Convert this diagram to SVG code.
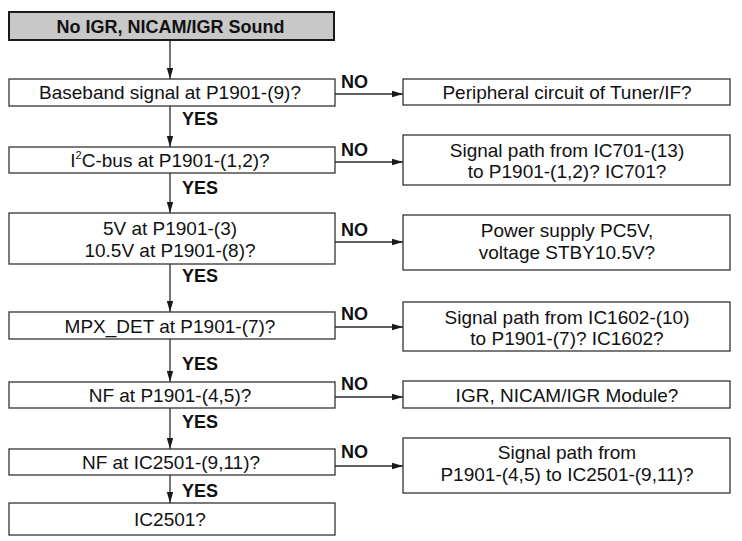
<svg xmlns="http://www.w3.org/2000/svg" width="742" height="541" viewBox="0 0 742 541">
<defs>
<marker id="ah" markerWidth="12" markerHeight="8" refX="11" refY="4" orient="auto" markerUnits="userSpaceOnUse">
<path d="M0,0.8 L11,4 L0,7.2 Z" fill="#1a1a1a"/>
</marker>
<style>
.box{fill:#fff;stroke:#333;stroke-width:1.3}
.title{fill:#c8c8c8;stroke:#1a1a1a;stroke-width:2}
.t{font-family:"Liberation Sans",Arial,sans-serif;font-size:19px;fill:#111;text-anchor:middle}
.b{font-family:"Liberation Sans",Arial,sans-serif;font-size:18px;font-weight:bold;fill:#111}
.c{stroke:#2a2a2a;stroke-width:1.3;fill:none;marker-end:url(#ah)}
</style>
</defs>
<rect width="742" height="541" fill="#fff"/>
<g id="connectors">
<line class="c" x1="170" y1="41" x2="170" y2="79"/>
<line class="c" x1="170" y1="106" x2="170" y2="147"/>
<line class="c" x1="170" y1="173" x2="170" y2="213"/>
<line class="c" x1="170" y1="264" x2="170" y2="312"/>
<line class="c" x1="170" y1="339" x2="170" y2="382"/>
<line class="c" x1="170" y1="408" x2="170" y2="449"/>
<line class="c" x1="170" y1="475" x2="170" y2="503"/>
<line class="c" x1="335" y1="94" x2="403" y2="94"/>
<line class="c" x1="335" y1="162" x2="403" y2="162"/>
<line class="c" x1="335" y1="242" x2="403" y2="242"/>
<line class="c" x1="335" y1="327" x2="403" y2="327"/>
<line class="c" x1="335" y1="397" x2="403" y2="397"/>
<line class="c" x1="335" y1="466" x2="403" y2="466"/>
<text class="b" x="182" y="125">YES</text>
<text class="b" x="182" y="194">YES</text>
<text class="b" x="182" y="282">YES</text>
<text class="b" x="182" y="370">YES</text>
<text class="b" x="182" y="428">YES</text>
<text class="b" x="182" y="497">YES</text>
<text class="b" x="341" y="88">NO</text>
<text class="b" x="341" y="156">NO</text>
<text class="b" x="341" y="236">NO</text>
<text class="b" x="341" y="320">NO</text>
<text class="b" x="341" y="390">NO</text>
<text class="b" x="341" y="458">NO</text>
</g>
<g id="start">
<rect class="title" x="9" y="12" width="325" height="28"/>
<text class="b" x="170.5" y="32.5" text-anchor="middle">No IGR, NICAM/IGR Sound</text>
</g>
<g id="q1">
<rect class="box" x="9" y="79" width="326" height="27"/>
<text class="t" x="170" y="99">Baseband signal at P1901-(9)?</text>
</g>
<g id="q2">
<rect class="box" x="9" y="147" width="326" height="26"/>
<text class="t" x="170" y="166.5">I<tspan font-size="11" dy="-7.5">2</tspan><tspan dy="7.5">C-bus at P1901-(1,2)?</tspan></text>
</g>
<g id="q3">
<rect class="box" x="9" y="213" width="326" height="51"/>
<text class="t" x="170" y="235">5V at P1901-(3)</text>
<text class="t" x="170" y="257">10.5V at P1901-(8)?</text>
</g>
<g id="q4">
<rect class="box" x="9" y="312" width="326" height="27"/>
<text class="t" x="170" y="332.5">MPX_DET at P1901-(7)?</text>
</g>
<g id="q5">
<rect class="box" x="9" y="382" width="326" height="26"/>
<text class="t" x="170" y="401.5">NF at P1901-(4,5)?</text>
</g>
<g id="q6">
<rect class="box" x="9" y="449" width="326" height="26"/>
<text class="t" x="171" y="468.5">NF at IC2501-(9,11)?</text>
</g>
<g id="end">
<rect class="box" x="9" y="503" width="326" height="32"/>
<text class="t" x="170" y="526">IC2501?</text>
</g>
<g id="r1">
<rect class="box" x="403" y="79" width="327" height="26"/>
<text class="t" x="567" y="99">Peripheral circuit of Tuner/IF?</text>
</g>
<g id="r2">
<rect class="box" x="403" y="135" width="327" height="50"/>
<text class="t" x="567" y="156.5">Signal path from IC701-(13)</text>
<text class="t" x="567" y="178">to P1901-(1,2)? IC701?</text>
</g>
<g id="r3">
<rect class="box" x="403" y="215" width="327" height="55"/>
<text class="t" x="567" y="237">Power supply PC5V,</text>
<text class="t" x="567" y="259">voltage STBY10.5V?</text>
</g>
<g id="r4">
<rect class="box" x="403" y="302" width="327" height="49"/>
<text class="t" x="567" y="324">Signal path from IC1602-(10)</text>
<text class="t" x="567" y="345">to P1901-(7)? IC1602?</text>
</g>
<g id="r5">
<rect class="box" x="403" y="381" width="327" height="27"/>
<text class="t" x="567" y="401.5">IGR, NICAM/IGR Module?</text>
</g>
<g id="r6">
<rect class="box" x="403" y="438" width="327" height="55"/>
<text class="t" x="567" y="459">Signal path from</text>
<text class="t" x="567" y="481">P1901-(4,5) to IC2501-(9,11)?</text>
</g>
</svg>
